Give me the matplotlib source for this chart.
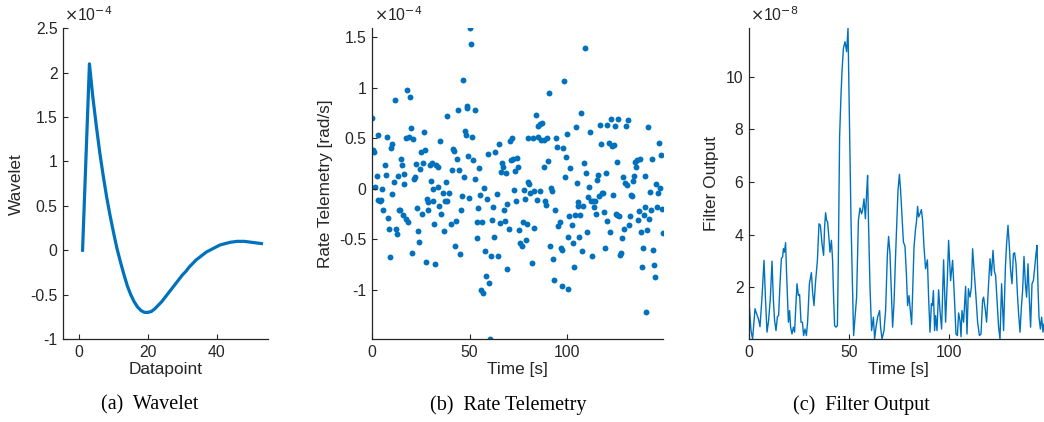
import matplotlib
matplotlib.use('Agg')
import matplotlib.pyplot as plt
import numpy as np

plt.rcParams['font.family'] = ['Liberation Sans', 'DejaVu Sans']
plt.rcParams['axes.unicode_minus'] = False

BLUE = '#0072BD'
DARK = '#262626'

# (a) wavelet, units of 1e-4
datapoint = np.arange(1, 54)
wavelet = [0, 1.05, 2.1, 1.72, 1.40, 1.10, 0.84, 0.60, 0.39, 0.20,
           0.02, -0.13, -0.27, -0.40, -0.50, -0.58, -0.64, -0.68, -0.70, -0.70,
           -0.69, -0.66, -0.62, -0.58, -0.53, -0.48, -0.43, -0.38, -0.33, -0.28,
           -0.24, -0.19, -0.15, -0.11, -0.08, -0.05, -0.02, 0.0, 0.02, 0.04,
           0.06, 0.07, 0.08, 0.09, 0.095, 0.10, 0.10, 0.10, 0.095, 0.09,
           0.085, 0.08, 0.075]

# (b) rate telemetry, units of 1e-4 rad/s
rate_t = [0.0, 0.5, 0.9, 1.4, 2.2, 2.8, 3.1, 3.9, 4.5, 5.1, 5.7, 6.5, 6.9, 7.5, 7.9, 8.6, 8.9,
          9.6, 9.9, 10.3, 11.0, 11.5, 12.0, 12.5, 13.0, 13.7, 14.2, 14.6, 15.1, 15.6, 16.1,
          16.5, 17.1, 17.5, 18.0, 18.5, 19.0, 19.5, 20.0, 20.6, 21.1, 21.6, 22.1, 22.5,
          23.1, 23.3, 24.0, 24.5, 25.0, 25.5, 26.2, 26.4, 27.1, 27.4, 27.9, 28.5, 28.8,
          29.7, 30.0, 30.5, 31.0, 31.4, 31.9, 32.4, 32.7, 33.6, 33.8, 34.3, 34.9, 35.5,
          36.2, 36.7, 37.4, 38.0, 38.4, 38.6, 39.4, 40.4, 41.1, 41.5, 42.0, 42.3, 42.8,
          43.5, 44.0, 44.6, 44.9, 45.6, 46.1, 46.4, 47.1, 47.5, 48.0, 48.5, 48.8, 49.3,
          49.7, 50.4, 50.7, 51.4, 51.9, 52.6, 53.0, 53.6, 54.0, 54.5, 55.0, 55.5, 55.9,
          56.4, 56.9, 57.4, 57.9, 58.6, 58.9, 59.5, 60.0, 60.5, 61.0, 61.5, 62.0, 62.5,
          63.2, 64.1, 64.4, 64.9, 65.5, 66.0, 66.5, 67.0, 67.5, 68.0, 68.5, 69.1, 69.4,
          70.1, 70.6, 71.1, 71.6, 72.5, 72.8, 73.5, 74.0, 74.5, 75.0, 75.4, 76.1, 76.8,
          77.3, 78.0, 78.5, 79.0, 79.5, 79.8, 80.2, 80.7, 81.2, 81.9, 82.4, 82.9, 83.3,
          84.0, 84.5, 85.0, 85.3, 86.0, 86.2, 86.7, 87.4, 88.1, 88.4, 88.9, 89.4, 89.9,
          90.5, 91.0, 91.5, 92.0, 92.5, 92.9, 93.4, 93.9, 94.2, 94.9, 95.6, 96.3, 96.8,
          97.3, 97.5, 98.0, 98.5, 98.9, 99.5, 99.9, 100.4, 100.7, 101.3, 101.6, 102.4,
          103.0, 103.5, 104.0, 104.5, 105.0, 105.5, 105.9, 106.4, 106.9, 107.4, 107.9,
          108.4, 108.9, 109.5, 110.0, 110.5, 110.8, 111.4, 112.0, 112.4, 112.9, 113.4,
          113.9, 114.4, 114.9, 115.5, 116.0, 116.5, 117.0, 117.5, 118.0, 118.5, 118.9,
          119.4, 119.9, 120.4, 120.8, 121.5, 122.0, 122.5, 123.0, 123.5, 124.0, 124.5,
          125.1, 125.6, 125.9, 126.4, 126.9, 127.5, 128.0, 128.5, 129.0, 129.5, 129.9,
          130.4, 130.9, 131.4, 131.9, 132.4, 132.9, 133.6, 134.0, 134.5, 135.0, 135.5,
          136.0, 136.5, 137.0, 137.6, 137.9, 138.4, 138.9, 139.4, 139.9, 140.3, 140.8,
          141.3, 141.8, 142.4, 142.9, 143.4, 143.9, 144.4, 144.9, 145.4, 145.9, 146.5,
          147.0, 147.5, 148.0, 148.5, 149.0, 149.4]
rate_v = [0.70, 0.38, 0.36, 0.02, 0.13, -0.11, 0.53, -0.12, -0.11, 0.00, -0.21, 0.23, 0.14,
          0.51, -0.29, -0.40, -0.68, 0.40, -0.05, 0.44, 0.07, 0.88, -0.40, -0.45, 0.13,
          -0.21, -0.21, 0.29, 0.23, -0.26, 0.05, 0.15, 0.50, -0.30, 0.98, -0.33, 0.51,
          0.91, 0.60, -0.64, 0.49, 0.10, 0.12, 0.24, -0.19, -0.42, -0.53, 0.20, 0.36,
          -0.25, 0.25, 0.56, 0.38, -0.73, -0.10, -0.21, -0.13, 0.23, 0.08, 0.25, -0.12,
          0.00, -0.35, -0.75, 0.23, 0.22, 0.02, -0.17, 0.47, -0.25, -0.04, -0.42, -0.12,
          0.07, -0.12, 0.72, -0.04, -0.35, 0.19, 0.39, 0.37, -0.57, -0.32, 0.29, 0.78,
          0.19, -0.65, -0.21, -0.07, 1.08, 0.12, 0.57, 0.53, 0.82, 0.80, 0.32, -0.09,
          1.59, 1.43, 0.51, 0.28, 0.78, 0.10, -0.49, -0.33, -0.19, 0.21, -0.06, -1.00,
          -0.33, -1.03, 0.01, -0.62, -0.87, -0.10, 0.34, -0.93, -1.49, -0.67, -0.31, -0.18,
          -0.48, 0.36, -0.05, -0.67, 0.44, -0.34, 0.17, 0.25, 0.22, -0.21, -0.32, 0.16,
          -0.80, -0.15, -0.40, 0.47, 0.28, 0.50, 0.29, -0.01, 0.18, -0.12, 0.30, 0.22,
          -0.41, -0.54, -0.57, -0.33, -0.01, -0.10, -0.51, -0.35, 0.50, 0.07, 0.05, -0.04,
          -0.74, 0.50, -0.39, -0.02, 0.73, -0.11, 0.51, 0.62, 0.64, -0.02, 0.48, 0.65,
          0.48, 0.22, -0.12, -0.16, 0.50, 0.27, 0.95, -0.57, 0.01, -0.02, -0.70, -0.91,
          -0.21, 0.50, 0.41, -0.37, -0.33, -0.59, -0.61, -0.96, 0.40, 1.07, 0.12, 0.31,
          0.54, -0.99, -0.48, -0.27, 0.21, -0.36, -0.54, -0.78, -0.26, 0.61, 0.06, -0.13,
          -0.17, -0.48, -0.26, 0.75, -0.62, -0.17, 0.25, 1.39, 0.16, -0.43, -0.08, 0.02,
          0.56, -0.12, -0.67, -0.12, -0.18, -0.12, -0.25, 0.09, 0.14, -0.07, 0.63, 0.44,
          -0.04, -0.04, -0.23, -0.59, 0.16, -0.32, 0.63, 0.45, -0.43, 0.69, 0.42, -0.06,
          0.43, 0.62, -0.25, -0.26, 0.26, 0.69, -0.27, -0.66, -0.64, -0.49, 0.12, -0.40,
          0.06, 0.62, 0.04, 0.68, -0.36, -0.27, -0.06, -0.07, 0.08, 0.13, 0.26, 0.22,
          0.28, -0.31, -0.22, 0.29, -0.43, -0.78, -0.59, -0.26, 0.13, -0.18, -1.22, -0.41,
          0.61, -0.30, -0.03, -0.21, 0.29, -0.61, -0.76, -0.88, 0.05, -0.18, -0.04, 0.45,
          0.01, 0.33, -0.20, -0.44]

# (c) filter output, units of 1e-8
filt_t = [0.0, 1.0, 1.8, 3.0, 3.8, 4.7, 5.5, 6.5, 7.5, 8.2, 9.0, 9.8, 10.7, 11.5, 12.2, 12.8,
          13.5, 14.2, 14.8, 15.5, 16.2, 16.8, 17.2, 17.7, 18.3, 18.8, 19.7, 20.3, 20.8,
          21.5, 22.2, 22.8, 23.3, 24.0, 24.7, 25.3, 26.0, 26.7, 27.3, 28.0, 28.7, 29.3,
          30.2, 31.2, 31.8, 32.5, 33.2, 34.2, 35.0, 35.7, 36.5, 37.3, 37.8, 38.3, 38.8,
          39.3, 40.0, 40.5, 41.2, 41.8, 42.3, 42.8, 43.5, 44.2, 44.7, 45.3, 46.0, 46.5,
          47.2, 48.0, 48.8, 49.5, 50.2, 51.0, 51.8, 52.3, 53.0, 53.8, 54.7, 55.5, 56.3,
          56.8, 57.5, 58.2, 58.8, 59.3, 59.8, 60.5, 61.3, 62.2, 62.8, 63.5, 64.3, 65.3,
          65.8, 66.5, 67.5, 68.3, 69.2, 69.8, 70.5, 71.2, 71.8, 72.5, 73.2, 73.8, 74.5,
          75.2, 75.8, 76.5, 77.2, 78.0, 78.7, 79.3, 80.0, 80.7, 81.3, 81.8, 82.5, 83.2,
          83.8, 84.3, 84.8, 85.5, 86.2, 86.8, 87.5, 88.3, 89.2, 89.8, 90.5, 91.2, 91.7,
          92.2, 92.8, 93.3, 94.0, 94.8, 95.5, 96.3, 97.3, 98.3, 99.2, 99.8, 100.8, 101.8,
          102.7, 103.5, 104.2, 104.8, 105.5, 106.0, 106.5, 107.3, 108.3, 109.0, 109.7,
          110.5, 111.2, 111.8, 112.7, 113.5, 114.3, 115.2, 116.0, 116.8, 117.3, 118.2,
          118.8, 119.7, 120.5, 121.2, 122.0, 122.7, 123.3, 124.2, 124.8, 125.5, 126.3,
          127.3, 128.2, 128.8, 129.5, 130.2, 130.8, 131.5, 132.2, 132.8, 133.5, 134.2,
          134.8, 135.5, 136.2, 136.8, 137.5, 138.2, 138.8, 139.5, 140.2, 140.8, 141.5,
          142.2, 142.8, 143.5, 144.0, 144.5, 145.0, 145.7, 146.3, 147.0, 147.5, 148.2]
filt_v = [1.46, 0.35, 0.03, 1.18, 0.99, 0.80, 0.50, 1.62, 3.02, 1.62, 0.29, 0.73, 1.62,
          2.99, 1.50, 0.73, 0.35, 0.88, 0.92, 2.13, 3.10, 3.14, 3.46, 3.33, 3.69, 2.50,
          0.67, 1.11, 0.48, 0.22, 0.48, 0.29, 1.11, 2.13, 1.68, 1.72, 0.67, 0.67, 0.16,
          0.41, 0.16, 0.67, 2.13, 2.55, 1.81, 1.30, 2.13, 3.02, 4.41, 4.35, 3.65, 3.21,
          4.29, 4.83, 4.54, 4.48, 3.84, 3.33, 3.78, 3.02, 1.62, 0.54, 0.48, 0.54, 3.27,
          7.72, 9.30, 10.20, 11.08, 11.33, 10.95, 11.84, 8.35, 4.54, 1.75, 0.16, 0.86,
          1.62, 4.54, 5.01, 4.79, 4.92, 5.36, 4.60, 5.56, 6.25, 4.29, 2.00, 0.35, 0.86,
          0.03, 0.48, 0.86, 1.11, 0.48, 0.03, 0.35, 1.11, 3.27, 3.93, 3.27, 1.75, 0.48,
          1.37, 3.02, 4.29, 5.68, 6.29, 5.68, 4.67, 3.72, 3.55, 2.50, 1.30, 1.68, 1.11,
          0.58, 1.75, 3.52, 4.16, 4.54, 5.07, 4.67, 4.79, 4.95, 4.54, 3.52, 2.70, 3.04,
          1.62, 0.29, 1.37, 1.30, 1.87, 0.35, 0.92, 0.35, 1.90, 1.11, 0.41, 3.04, 0.67,
          2.38, 3.78, 2.25, 3.02, 1.62, 0.22, 0.16, 1.02, 0.73, 0.12, 1.11, 0.67, 2.03,
          0.22, 1.94, 1.62, 2.00, 3.46, 2.50, 1.62, 0.67, 0.16, 0.22, 1.50, 1.62, 1.11,
          0.67, 2.00, 3.08, 2.44, 3.40, 2.61, 2.44, 1.24, 0.48, 0.03, 2.13, 0.35, 2.76,
          3.65, 4.35, 3.52, 2.64, 2.13, 3.27, 3.31, 2.89, 1.75, 0.99, 0.29, 1.24, 1.87,
          3.17, 2.13, 1.62, 2.89, 1.50, 0.48, 2.13, 2.25, 2.70, 3.27, 3.59, 2.00, 0.86,
          0.41, 0.86, 0.29, 0.61, 0.40]

W, H = 1044, 422
fig = plt.figure(figsize=(W / 100, H / 100), dpi=100)


def make_axes(left, right, top=28.3, bottom=339):
    ax = fig.add_axes([left / W, (H - bottom) / H, (right - left) / W, (bottom - top) / H])
    for s in ['top', 'right']:
        ax.spines[s].set_visible(False)
    for s in ['left', 'bottom']:
        ax.spines[s].set_color(DARK)
        ax.spines[s].set_linewidth(0.9)
    ax.tick_params(direction='in', length=3.5, width=0.8, colors=DARK,
                   labelsize=11.3, pad=4)
    return ax


def exponent(ax, txt):
    ax.text(0.005, 1.015, r'$\times$10$^{%s}$' % txt, transform=ax.transAxes,
            ha='left', va='bottom', fontsize=11.3, color=DARK,
            math_fontfamily='dejavusans')


# (a)
ax1 = make_axes(63.3, 268.3)
ax1.plot(datapoint, wavelet, color=BLUE, lw=2.3)
ax1.set_xlim(-4.6, 55)
ax1.set_ylim(-1, 2.5)
ax1.set_xticks([0, 20, 40])
ax1.set_yticks([-1, -0.5, 0, 0.5, 1, 1.5, 2, 2.5])
ax1.set_yticklabels(['-1', '-0.5', '0', '0.5', '1', '1.5', '2', '2.5'])
ax1.set_xlabel('Datapoint', fontsize=12.4, color=DARK, labelpad=2)
ax1.set_ylabel('Wavelet', fontsize=12.4, color=DARK, labelpad=5)
exponent(ax1, '-4')

# (b)
ax2 = make_axes(372.3, 663.3)
ax2.scatter(rate_t, rate_v, s=18, color=BLUE, linewidths=0)
ax2.set_xlim(0, 149.5)
ax2.set_ylim(min(rate_v), max(rate_v))
ax2.set_xticks([0, 50, 100])
ax2.set_yticks([-1, -0.5, 0, 0.5, 1, 1.5])
ax2.set_yticklabels(['-1', '-0.5', '0', '0.5', '1', '1.5'])
ax2.set_xlabel('Time [s]', fontsize=12.4, color=DARK, labelpad=2)
ax2.set_ylabel('Rate Telemetry [rad/s]', fontsize=12.4, color=DARK, labelpad=5)
exponent(ax2, '-4')

# (c)
ax3 = make_axes(749, 1048)
ax3.plot(filt_t, filt_v, color=BLUE, lw=1.0)
ax3.set_xlim(0, 149.5)
ax3.set_ylim(min(filt_v), max(filt_v))
ax3.set_xticks([0, 50, 100])
ax3.set_yticks([2, 4, 6, 8, 10])
ax3.set_xlabel('Time [s]', fontsize=12.4, color=DARK, labelpad=2)
ax3.set_ylabel('Filter Output', fontsize=12.4, color=DARK, labelpad=5)
exponent(ax3, '-8')

# subfigure captions
caps = ['(a)  Wavelet', '(b)  Rate Telemetry', '(c)  Filter Output']
for xc, cap in zip([150, 508, 861], caps):
    fig.text(xc / W, 1 - 405 / H, cap, ha='center', va='center',
             fontsize=14.5, family='Liberation Serif', color='black')

fig.savefig('out.png', dpi=100)
